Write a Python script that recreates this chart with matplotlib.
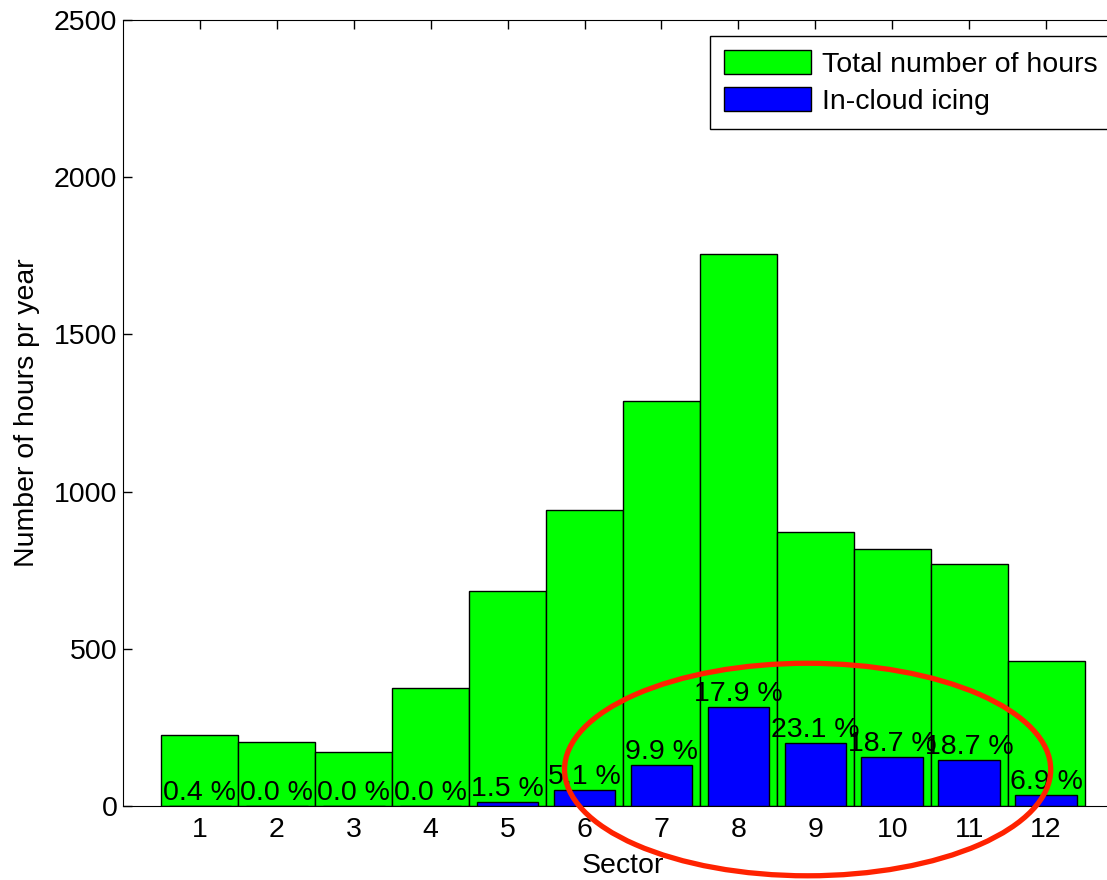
import matplotlib
matplotlib.use("Agg")
import matplotlib.pyplot as plt
from matplotlib.patches import Ellipse

# --- Hours per sector, total vs in-cloud icing ---

sectors = list(range(1, 13))
total_hours = [226, 204, 172, 375, 684, 941, 1288, 1756, 871, 817, 770, 461]
icing_hours = [1, 0, 0, 0, 12, 50, 130, 315, 200, 155, 146, 34]
icing_pct = [0.4, 0.0, 0.0, 0.0, 1.5, 5.1, 9.9, 17.9, 23.1, 18.7, 18.7, 6.9]
yticks = [0, 500, 1000, 1500, 2000, 2500]

plt.rcParams['font.family'] = ['Liberation Sans', 'DejaVu Sans']
fs = 20.5

fig = plt.figure(figsize=(11.07, 8.8), dpi=100)
# axes runs past the right edge of the figure (cropped like the original)
ax = fig.add_axes([123 / 1107, 74 / 880, 1000 / 1107, 786 / 880])

ax.bar(sectors, total_hours, width=1.0, color='#00ff00', edgecolor='black',
       linewidth=1.0, label='Total number of hours', zorder=2)
ax.bar(sectors, icing_hours, width=0.8, color='#0000ff', edgecolor='black',
       linewidth=1.0, label='In-cloud icing', zorder=3)

for x, h, p in zip(sectors, icing_hours, icing_pct):
    ax.text(x, h, f"{p:.1f} %", ha='center', va='bottom', fontsize=fs, zorder=5)

ax.set_xlim(0, 13)
ax.set_ylim(0, 2500)
ax.set_xticks(sectors)
ax.set_yticks(yticks)
ax.tick_params(direction='in', length=6.5, width=1, labelsize=fs, top=True)
ax.tick_params(axis='x', pad=8)
ax.tick_params(axis='y', pad=4)
ax.set_xlabel('Sector', fontsize=fs, labelpad=7)
ax.set_ylabel('Number of hours pr year', fontsize=fs, labelpad=10)

# red ring around the sectors with most icing
ring = Ellipse((8.9, 116), width=6.32, height=676, fill=False,
               edgecolor='#ff2200', linewidth=3.8, zorder=6, clip_on=False)
ax.add_patch(ring)

leg = ax.legend(loc='upper left', bbox_to_anchor=(710 / 1107, 844 / 880),
                bbox_transform=fig.transFigure, fontsize=fs, fancybox=False,
                framealpha=1, edgecolor='black', handlelength=3.05,
                handleheight=0.9, handletextpad=0.4, labelspacing=0.33,
                borderpad=0.5, borderaxespad=0)
leg.get_frame().set_linewidth(1.0)

fig.savefig('out.png', dpi=100)
